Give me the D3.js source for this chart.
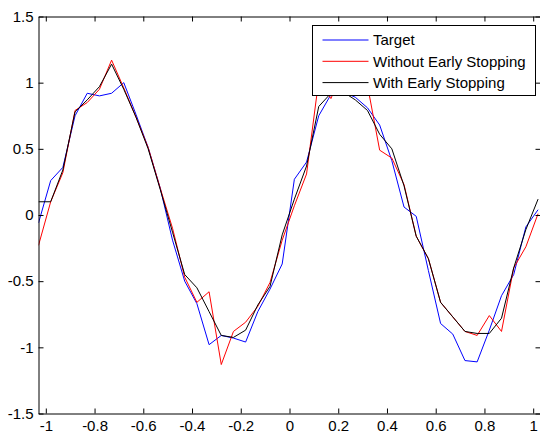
<!DOCTYPE html>
<html>
<head>
<meta charset="utf-8">
<script src="https://cdn.jsdelivr.net/npm/d3@7"></script>
<style>
  html, body { margin: 0; padding: 0; background: #fff; }
  svg { display: block; }
  .axis text { font-family: "Liberation Sans", Arial, sans-serif; font-size: 15px; fill: #000; }
  .axis path, .axis line { stroke: #000; }
</style>
</head>
<body>
<svg id="chart" width="540" height="436"></svg>
<script>
// Sample positions
const xs = [-1.03, -0.98, -0.93, -0.88, -0.83, -0.78, -0.73, -0.68, -0.63, -0.58,
            -0.53, -0.48, -0.43, -0.38, -0.33, -0.28, -0.23, -0.18, -0.13, -0.08,
            -0.03, 0.02, 0.07, 0.12, 0.17, 0.22, 0.27, 0.32, 0.37, 0.42,
            0.47, 0.52, 0.57, 0.62, 0.67, 0.72, 0.77, 0.82, 0.87, 0.92,
            0.97, 1.02];

// Noisy target values
const target = [-0.06, 0.26, 0.36, 0.75, 0.92, 0.90, 0.92, 1.00, 0.76, 0.51,
                0.20, -0.19, -0.50, -0.67, -0.98, -0.91, -0.93, -0.96, -0.73, -0.56,
                -0.37, 0.27, 0.40, 0.75, 0.91, 0.93, 0.89, 0.81, 0.68, 0.41,
                0.06, -0.01, -0.42, -0.82, -0.90, -1.10, -1.11, -0.87, -0.61, -0.45,
                -0.09, 0.04];

// Network output trained without early stopping
const withoutES = [-0.23, 0.10, 0.32, 0.79, 0.85, 0.95, 1.17, 0.96, 0.74, 0.51,
                   0.20, -0.10, -0.47, -0.66, -0.58, -1.13, -0.88, -0.81, -0.69, -0.51,
                   -0.19, 0.07, 0.31, 1.02, 0.88, 1.10, 1.06, 0.98, 0.49, 0.43,
                   0.23, -0.16, -0.33, -0.66, -0.77, -0.88, -0.91, -0.76, -0.88, -0.40,
                   -0.24, 0.01];

// Network output trained with early stopping
const withES = [0.10, 0.10, 0.34, 0.78, 0.87, 0.97, 1.14, 0.95, 0.74, 0.50,
                0.19, -0.13, -0.45, -0.55, -0.73, -0.91, -0.925, -0.87, -0.68, -0.54,
                -0.15, 0.12, 0.37, 0.82, 0.92, 0.93, 0.87, 0.79, 0.61, 0.50,
                0.22, -0.16, -0.33, -0.66, -0.77, -0.88, -0.895, -0.895, -0.78, -0.40,
                -0.11, 0.12];

const xTicks = [-1, -0.8, -0.6, -0.4, -0.2, 0, 0.2, 0.4, 0.6, 0.8, 1];
const xTickLabels = ["-1", "-0.8", "-0.6", "-0.4", "-0.2", "0", "0.2", "0.4", "0.6", "0.8", "1"];
const yTicks = [-1.5, -1, -0.5, 0, 0.5, 1, 1.5];
const yTickLabels = ["-1.5", "-1", "-0.5", "0", "0.5", "1", "1.5"];

const seriesNames = ["Target", "Without Early Stopping", "With Early Stopping"];
const seriesColors = ["#0000ff", "#ff0000", "#000000"];
const seriesValues = [target, withoutES, withES];

const svg = d3.select("#chart");
const plotLeft = 38.5, plotRight = 540.5, plotTop = 16.5, plotBottom = 413.5;

const x = d3.scaleLinear().domain([-1.03, 1.03]).range([plotLeft, plotRight]);
const y = d3.scaleLinear().domain([-1.5, 1.5]).range([plotBottom, plotTop]);

svg.append("rect").attr("width", 540).attr("height", 436).attr("fill", "#fff");

svg.append("defs").append("clipPath").attr("id", "plotClip")
  .append("rect").attr("x", plotLeft).attr("y", plotTop)
  .attr("width", plotRight - plotLeft).attr("height", plotBottom - plotTop);

// Curves
const line = d3.line().x((d, i) => x(xs[i])).y(d => y(d));
const plot = svg.append("g").attr("clip-path", "url(#plotClip)");
seriesValues.forEach((vals, si) => {
  plot.append("path")
    .datum(vals)
    .attr("d", line)
    .attr("fill", "none")
    .attr("stroke", seriesColors[si])
    .attr("stroke-width", 1);
});

// Axes (boxed, inward ticks)
const xFmt = (d) => xTickLabels[xTicks.indexOf(d)];
const yFmt = (d) => yTickLabels[yTicks.indexOf(d)];

svg.append("g").attr("class", "axis")
  .attr("transform", `translate(0,${plotBottom})`)
  .call(d3.axisBottom(x).tickValues(xTicks).tickFormat(xFmt).tickSizeInner(-5).tickSizeOuter(0).tickPadding(7));

svg.append("g").attr("class", "axis")
  .attr("transform", `translate(0,${plotTop})`)
  .call(d3.axisTop(x).tickValues(xTicks).tickFormat("").tickSizeInner(-5).tickSizeOuter(0));

svg.append("g").attr("class", "axis")
  .attr("transform", `translate(${plotLeft},0)`)
  .call(d3.axisLeft(y).tickValues(yTicks).tickFormat(yFmt).tickSizeInner(-5).tickSizeOuter(0).tickPadding(5));

svg.append("g").attr("class", "axis")
  .attr("transform", `translate(${plotRight},0)`)
  .call(d3.axisRight(y).tickValues(yTicks).tickFormat("").tickSizeInner(-5).tickSizeOuter(0));

// Legend
const legend = svg.append("g").attr("transform", "translate(312.5,25.5)");
legend.append("rect")
  .attr("width", 223).attr("height", 70)
  .attr("fill", "#fff").attr("stroke", "#000").attr("stroke-width", 1);
seriesNames.forEach((name, i) => {
  const cy = 14.5 + i * 21.3;
  legend.append("line")
    .attr("x1", 10).attr("x2", 56)
    .attr("y1", cy).attr("y2", cy)
    .attr("stroke", seriesColors[i]).attr("stroke-width", 1);
  legend.append("text")
    .attr("x", 60.5).attr("y", cy).attr("dy", "0.36em")
    .attr("font-family", "Liberation Sans, Arial, sans-serif")
    .attr("font-size", 15)
    .attr("fill", "#000")
    .text(name);
});
</script>
</body>
</html>
